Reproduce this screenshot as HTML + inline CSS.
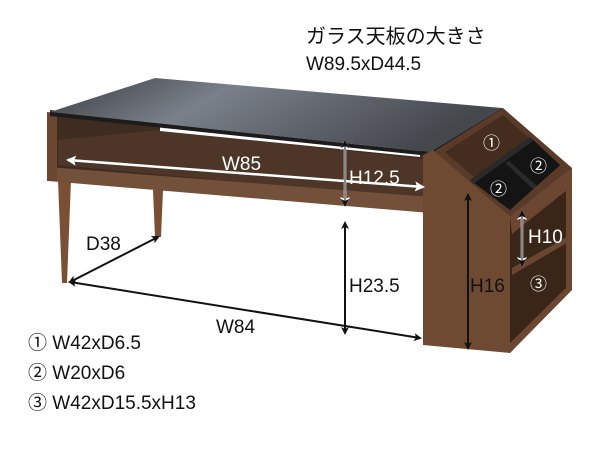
<!DOCTYPE html>
<html><head><meta charset="utf-8"><style>
body{margin:0;background:#fff}
svg{display:block}
text{font-family:"Liberation Sans","Noto Sans CJK JP",sans-serif}
</style></head><body>
<svg width="600" height="450" viewBox="0 0 600 450" xmlns="http://www.w3.org/2000/svg">
<defs>
<marker id="ab" markerWidth="8" markerHeight="8" refX="6" refY="4" orient="auto-start-reverse" markerUnits="userSpaceOnUse"><path d="M0,0 L8,4 L0,8 L2,4z" fill="#111"/></marker>
<marker id="aw" markerWidth="10" markerHeight="10" refX="8" refY="5" orient="auto-start-reverse" markerUnits="userSpaceOnUse"><path d="M0,0 L10,5 L0,10 L2,5z" fill="#fff"/></marker>
<linearGradient id="gl" x1="0" y1="0" x2="1" y2="0.3"><stop offset="0" stop-color="#3a3d41"/><stop offset="0.4" stop-color="#7a808a"/><stop offset="1" stop-color="#44474c"/></linearGradient>
</defs>
<polygon points="58,180 71,180 67,283 62,283" fill="#7a4f33"/>
<polygon points="153,190 163,190 161,237 155,237" fill="#7a4f33"/>
<polygon points="50,110 430,150 430,210 50,175" fill="#3f2c20"/>
<polygon points="58,140 160,130 430,160 430,200 58,165" fill="#4d3628"/>
<polygon points="160,124 420,148 420,157 160,131" fill="#fff"/>
<polygon points="48,167 430,197 430,213 48,181" fill="#73503a"/>
<polygon points="47,112 57,113 57,181 47,181" fill="#6b4630"/>
<polygon points="155,78 502,108 430,152 50,112" fill="url(#gl)"/>
<polygon points="50,112 430,152 430,156 50,116" fill="#1c1c1c"/>
<polygon points="430,152 502,108 505,110 433,155" fill="#1c1c1c"/>
<polygon points="510,217 572,168 572,287 510,353" fill="#3a2619"/>
<polygon points="510,217 572,168 572,186 512,234" fill="#6b4630"/>
<polygon points="512,268 572,234 572,240 512,275" fill="#6b4630"/>
<polygon points="510,343 572,282 572,290 510,353" fill="#6b4630"/>
<polygon points="566,168 572,168 572,290 566,292" fill="#6b4630"/>
<polygon points="433,152 503,108 572,168 510,217" fill="#5a3a28"/>
<polygon points="445,152 503,115 560,166 510,208" fill="#442c1e"/>
<polygon points="470,180 530,137 560,165 510,210" fill="#141414"/>
<polygon points="470,180 530,137 533,141 473,184" fill="#2a2a2a"/>
<polygon points="505,163 509,161 537,186 533,189" fill="#2a2a2a"/>
<polygon points="423,155 433,150 510,217 510,353 423,345" fill="#6e4a32"/>
<g stroke="#fff" stroke-width="2.5" fill="none">
<line x1="68" y1="160" x2="423" y2="187" marker-start="url(#aw)" marker-end="url(#aw)"/>
<line x1="345" y1="142" x2="345" y2="205" marker-start="url(#aw)" marker-end="url(#aw)"/>
<line x1="522" y1="212" x2="522" y2="265" marker-start="url(#aw)" marker-end="url(#aw)"/>
</g>
<g stroke="#111" stroke-width="2" fill="none">
<line x1="345" y1="142" x2="345" y2="205" stroke-width="1" marker-start="url(#ab)" marker-end="url(#ab)"/>
<line x1="522" y1="212" x2="522" y2="265" stroke-width="1" marker-start="url(#ab)" marker-end="url(#ab)"/>
<line x1="345" y1="223" x2="345" y2="333" marker-start="url(#ab)" marker-end="url(#ab)"/>
<line x1="70" y1="282" x2="420" y2="338" marker-start="url(#ab)" marker-end="url(#ab)"/>
<line x1="70" y1="282" x2="158" y2="237" marker-start="url(#ab)" marker-end="url(#ab)"/>
<line x1="468" y1="195" x2="468" y2="348" marker-start="url(#ab)" marker-end="url(#ab)"/>
</g>
<g font-size="19" fill="#fff">
<text x="222" y="170">W85</text>
<text x="349" y="184">H12.5</text>
<text x="483" y="149" font-size="17">①</text>
<text x="530" y="172" font-size="17">②</text>
<text x="490" y="195" font-size="17">②</text>
<text x="530" y="290" font-size="17">③</text>
<text x="528" y="243">H10</text>
</g>
<g font-size="19" fill="#111">
<text x="306" y="43" font-size="20">ガラス天板の大きさ</text>
<text x="306" y="70">W89.5xD44.5</text>
<text x="86" y="250">D38</text>
<text x="349" y="292">H23.5</text>
<text x="216" y="333">W84</text>
<text x="470" y="292">H16</text>
<text x="28" y="349">①  W42xD6.5</text>
<text x="28" y="379">②  W20xD6</text>
<text x="28" y="409">③  W42xD15.5xH13</text>
</g>
</svg>
</body></html>
